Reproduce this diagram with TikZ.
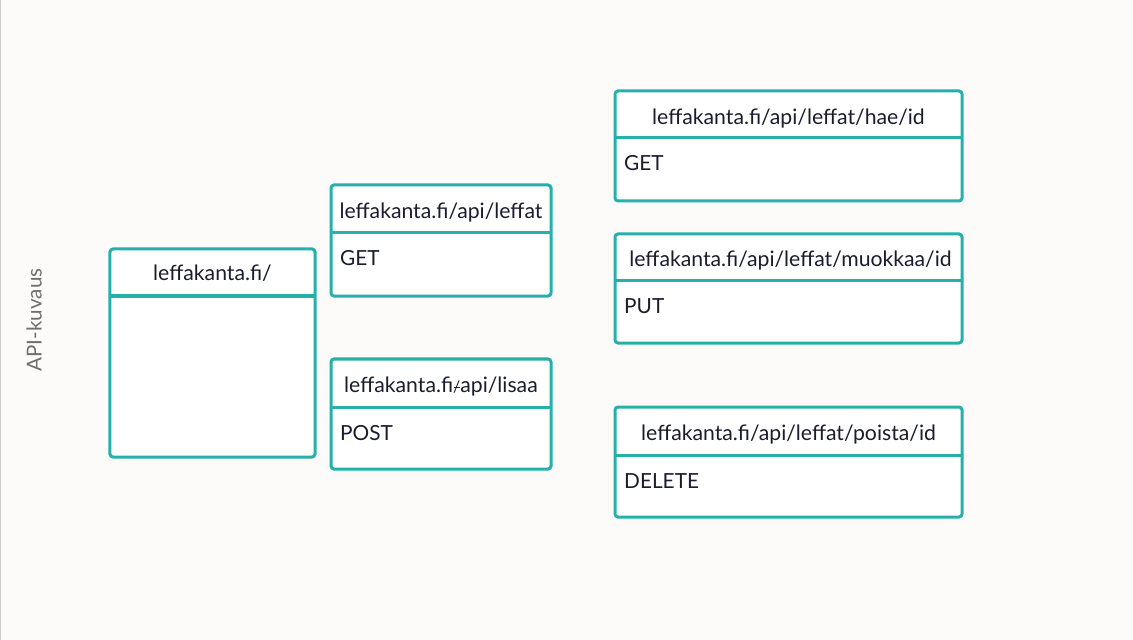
\documentclass[tikz,border=0pt]{standalone}
\usepackage{fontspec}
\setmainfont{Lato}
\usepackage{graphicx}
\definecolor{bgc}{RGB}{252,251,249}
\definecolor{tealc}{RGB}{38,176,172}
\definecolor{txtc}{RGB}{28,28,48}
\definecolor{sidec}{RGB}{110,110,110}
\definecolor{edgec}{RGB}{205,205,205}
\tikzset{
  apibox/.style={draw=tealc, line width=3bp, rounded corners=3bp, fill=white, inner sep=0pt},
  divider/.style={draw=tealc, line width=3bp},
  headtxt/.style={text=txtc, font=\fontsize{21.2bp}{24bp}\selectfont, inner sep=0pt, anchor=base},
  bodytxt/.style={text=txtc, font=\fontsize{20.8bp}{24bp}\selectfont, inner sep=0pt, anchor=base west},
}
\begin{document}
\begin{tikzpicture}[x=1bp,y=-1bp]
\path[fill=bgc] (0,0) rectangle (1133,640);
\useasboundingbox (0,0) rectangle (1133,640);
\coordinate (e1) at (0.75,0);
\coordinate (e2) at (0.75,640);
\draw[edgec, line width=1.5bp] (e1) -- (e2);
\node[rotate=90, text=sidec, font=\fontsize{20.6bp}{24bp}\selectfont, inner sep=0pt] (side) at (34,320) {API-kuvaus};

% Box A
\node[apibox, minimum width=205bp, minimum height=208bp] (A) at (212.5,353) {};
\coordinate (Al) at (110,296); \coordinate (Ar) at (315,296);
\draw[divider] (Al) -- (Ar);
\node[headtxt] (Ah) at (212.5,281) {leffakanta.fi/};

% Box B
\node[apibox, minimum width=220bp, minimum height=111bp] (B) at (441,240.5) {};
\coordinate (Bl) at (331,233); \coordinate (Br) at (551,233);
\draw[divider] (Bl) -- (Br);
\node[headtxt] (Bh) at (441,218.5) {leffakanta.fi/api/leffat};
\node[bodytxt] (Bb) at (340,266) {GET};

% Box C
\node[apibox, minimum width=220bp, minimum height=110bp] (C) at (441,414) {};
\coordinate (Cl) at (331,407); \coordinate (Cr) at (551,407);
\draw[divider] (Cl) -- (Cr);
\node[headtxt] (Ch) at (441,392.5) {leffakanta.fi\ooalign{\hfil\rule[4.5bp]{6bp}{1.2bp}\hfil\cr\hfil\scalebox{0.75}{/}\hfil}api/lisaa};
\node[bodytxt] (Cb) at (340,440) {POST};

% Box D
\node[apibox, minimum width=347bp, minimum height=110bp] (D) at (788.5,146) {};
\coordinate (Dl) at (615,138); \coordinate (Dr) at (962,138);
\draw[divider] (Dl) -- (Dr);
\node[headtxt] (Dh) at (788.5,124.5) {leffakanta.fi/api/leffat/hae/id};
\node[bodytxt] (Db) at (624,171) {GET};

% Box E
\node[apibox, minimum width=347bp, minimum height=109bp] (E) at (788.5,288.5) {};
\coordinate (El) at (615,281); \coordinate (Er) at (962,281);
\draw[divider] (El) -- (Er);
\node[headtxt] (Eh) at (790.5,266.5) {leffakanta.fi/api/leffat/muokkaa/id};
\node[bodytxt] (Eb) at (624,314) {PUT};

% Box F
\node[apibox, minimum width=347bp, minimum height=110bp] (F) at (788.5,462) {};
\coordinate (Fl) at (615,455); \coordinate (Fr) at (962,455);
\draw[divider] (Fl) -- (Fr);
\node[headtxt] (Fh) at (788.5,440.5) {leffakanta.fi/api/leffat/poista/id};
\node[bodytxt] (Fb) at (624,488) {DELETE};
\end{tikzpicture}
\end{document}
